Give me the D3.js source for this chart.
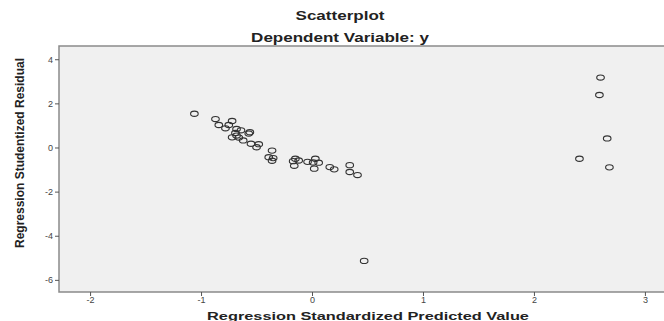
<!DOCTYPE html>
<html>
<head>
<meta charset="utf-8">
<script src="https://cdn.jsdelivr.net/npm/d3@7"></script>
<style>
  body { margin: 0; background: #fff; }
  text { font-family: "Liberation Sans", Arial, sans-serif; }
</style>
</head>
<body>
<div id="chart"></div>
<script>
// predicted (x) and studentized residual (y)
var predicted = [-1.06, -0.87, -0.72, -0.84, -0.78, -0.75, -0.68, -0.64, -0.56, -0.57,
  -0.69, -0.68, -0.72, -0.66, -0.62, -0.55, -0.48, -0.50, -0.36, -0.39,
  -0.35, -0.36, -0.15, -0.17, -0.12, -0.16, -0.04, 0.03, 0.01, 0.06,
  0.02, 0.16, 0.20, 0.34, 0.34, 0.41, 0.47,
  2.60, 2.59, 2.66, 2.41, 2.68];
var residual = [1.53, 1.29, 1.20, 1.02, 0.87, 1.02, 0.84, 0.78, 0.69, 0.63,
  0.66, 0.54, 0.46, 0.45, 0.32, 0.17, 0.15, 0.01, -0.14, -0.44,
  -0.48, -0.60, -0.51, -0.62, -0.59, -0.83, -0.65, -0.51, -0.68, -0.69,
  -0.96, -0.89, -0.99, -0.80, -1.11, -1.25, -5.14,
  3.17, 2.38, 0.41, -0.51, -0.90];
var xTicks = [-2, -1, 0, 1, 2, 3];
var yTicks = [4, 2, 0, -2, -4, -6];

var width = 664, height = 321;
var plotLeft = 59, plotTop = 46, plotRight = 666, plotBottom = 292;

var svg = d3.select('#chart').append('svg')
    .attr('width', width)
    .attr('height', height);

var x = d3.scaleLinear().domain([-2.28, 3.19]).range([plotLeft, plotRight]);
var y = d3.scaleLinear().domain([-6.55, 4.6]).range([plotBottom, plotTop]);
var fmt = function (d) { return String(d); };

svg.append('rect')
    .attr('x', plotLeft).attr('y', plotTop)
    .attr('width', plotRight - plotLeft).attr('height', plotBottom - plotTop)
    .attr('fill', '#f0f0f0')
    .attr('stroke', '#8a8a8a')
    .attr('stroke-width', 1.5);

var xAxis = svg.append('g')
    .attr('transform', 'translate(0,' + plotBottom + ')')
    .call(d3.axisBottom(x).tickValues(xTicks).tickSize(4).tickPadding(1).tickFormat(fmt));
xAxis.select('.domain').remove();
xAxis.selectAll('line').attr('stroke', '#555');
xAxis.selectAll('text').attr('font-size', 9).attr('fill', '#444');

var yAxis = svg.append('g')
    .attr('transform', 'translate(' + plotLeft + ',0)')
    .call(d3.axisLeft(y).tickValues(yTicks).tickSize(4).tickPadding(2).tickFormat(fmt));
yAxis.select('.domain').remove();
yAxis.selectAll('line').attr('stroke', '#555');
yAxis.selectAll('text').attr('font-size', 9).attr('fill', '#444');

svg.append('g').selectAll('ellipse')
    .data(d3.range(predicted.length))
    .enter()
    .append('ellipse')
    .attr('cx', function (i) { return x(predicted[i]); })
    .attr('cy', function (i) { return y(residual[i]); })
    .attr('rx', 3.8)
    .attr('ry', 2.6)
    .attr('fill', 'none')
    .attr('stroke', '#333')
    .attr('stroke-width', 1.1);

// the reference text is stretched sideways
function wideText(cx, cy, size, str) {
  svg.append('text')
      .attr('transform', 'translate(' + cx + ',' + cy + ') scale(1.42,1)')
      .attr('text-anchor', 'middle')
      .attr('font-size', size).attr('font-weight', 'bold')
      .attr('fill', '#222')
      .text(str);
}
wideText(340, 20, 12, 'Scatterplot');
wideText(340, 42, 12, 'Dependent Variable: y');
wideText(368, 320, 11.5, 'Regression Standardized Predicted Value');

svg.append('text')
    .attr('transform', 'translate(24,153) rotate(-90)')
    .attr('text-anchor', 'middle')
    .attr('font-size', 12).attr('font-weight', 'bold')
    .attr('fill', '#222')
    .text('Regression Studentized Residual');
</script>
</body>
</html>
